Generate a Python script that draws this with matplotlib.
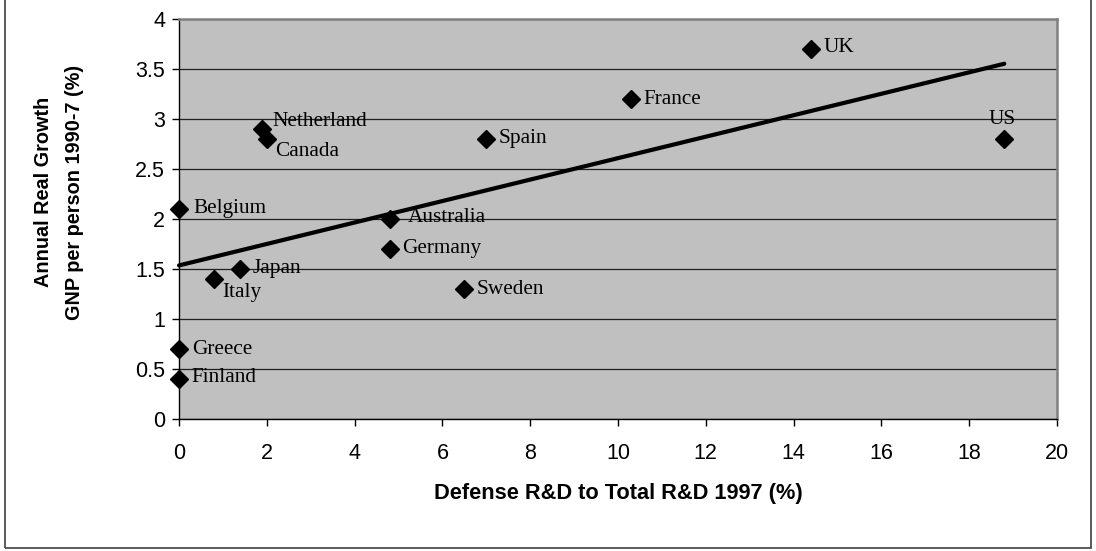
import numpy as np
import matplotlib
matplotlib.use("Agg")
import matplotlib.pyplot as plt
from matplotlib.patches import Rectangle

countries = ["Finland", "Greece", "Belgium", "Italy", "Japan", "Netherland", "Canada",
             "Australia", "Germany", "Sweden", "Spain", "France", "UK", "US"]
defense_rd = [0.0, 0.0, 0.0, 0.8, 1.4, 1.9, 2.0, 4.8, 4.8, 6.5, 7.0, 10.3, 14.4, 18.8]
gnp_growth = [0.4, 0.7, 2.1, 1.4, 1.5, 2.9, 2.8, 2.0, 1.7, 1.3, 2.8, 3.2, 3.7, 2.8]
x_ticks = [0, 2, 4, 6, 8, 10, 12, 14, 16, 18, 20]
y_ticks = [0, 0.5, 1, 1.5, 2, 2.5, 3, 3.5, 4]
y_tick_labels = ["0", "0.5", "1", "1.5", "2", "2.5", "3", "3.5", "4"]

# label offsets in pixels (dx, dy, ha)
offsets = {
    "Finland": (12, 1, "left"), "Greece": (13, 0, "left"), "Belgium": (14, 0, "left"),
    "Italy": (8, -13, "left"), "Japan": (12, 0, "left"), "Netherland": (10, 7, "left"),
    "Canada": (8, -12, "left"), "Australia": (18, 2, "left"), "Germany": (12, 0, "left"),
    "Sweden": (12, 0, "left"), "Spain": (12, 0, "left"), "France": (12, 0, "left"),
    "UK": (12, 1, "left"), "US": (-2, 19, "center"),
}

W, H = 1096, 551
fig = plt.figure(figsize=(W / 100, H / 100), dpi=100)
fig.patch.set_facecolor("white")
fig.add_artist(Rectangle((5 / W, 3 / H), (1091 - 5) / W, 1.2, transform=fig.transFigure,
                         fill=False, edgecolor="#404040", linewidth=1.2))

ax = fig.add_axes([179 / W, 1 - 419 / H, (1057 - 179) / W, (419 - 19) / H])
ax.set_facecolor("#C0C0C0")
ax.set_xlim(0, 20)
ax.set_ylim(0, 4)
ax.set_xticks(x_ticks)
ax.set_yticks(y_ticks)
ax.set_yticklabels(y_tick_labels)
ax.yaxis.grid(True, color="#202020", linewidth=0.9)
ax.set_axisbelow(True)
for s in ["left", "bottom"]:
    ax.spines[s].set_color("black")
    ax.spines[s].set_linewidth(1.0)
for s in ["right", "top"]:
    ax.spines[s].set_color("#808080")
    ax.spines[s].set_linewidth(1.8)
ax.tick_params(direction="out", length=5, width=1, color="black", labelsize=15.5)
ax.tick_params(axis="x", pad=12)
ax.tick_params(axis="y", pad=5)
for lab in ax.get_xticklabels() + ax.get_yticklabels():
    lab.set_fontfamily("Liberation Sans")

# trend line
xs = np.array(defense_rd)
ys = np.array(gnp_growth)
slope, intercept = np.polyfit(xs, ys, 1)
xl = np.array([0, xs.max()])
ax.plot(xl, slope * xl + intercept, color="black", linewidth=3.0, solid_capstyle="round",
        zorder=3, clip_on=False)

ax.plot(defense_rd, gnp_growth, linestyle="none", marker="D", markersize=9.5,
        color="black", zorder=4, clip_on=False)

for c, x, y in zip(countries, defense_rd, gnp_growth):
    dx, dy, ha = offsets[c]
    ax.annotate(c, (x, y), xytext=(dx * 0.72, dy * 0.72), textcoords="offset points",
                ha=ha, va="center", fontsize=15.3, family="Liberation Serif", zorder=5)

ax.set_xlabel("Defense R&D to Total R&D 1997 (%)", fontsize=15.7, fontweight="bold",
              family="Liberation Sans", labelpad=14)
ax.set_ylabel("Annual Real Growth\nGNP per person 1990-7 (%)", fontsize=14.3,
              fontweight="bold", family="Liberation Sans", linespacing=1.8)
ax.yaxis.set_label_coords(-0.108, 0.5675)

fig.savefig("out.png", dpi=100)
